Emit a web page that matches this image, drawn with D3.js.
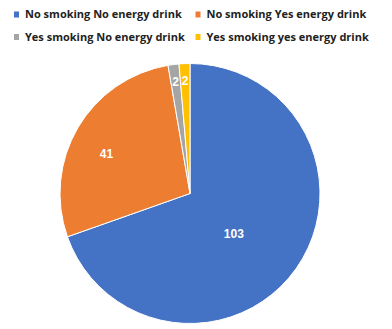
<!DOCTYPE html>
<html>
<head>
<meta charset="utf-8">
<script src="https://cdn.jsdelivr.net/npm/d3@7"></script>
<style>
  body { margin: 0; background: #fff; }
  text { font-weight: bold; }
</style>
</head>
<body>
<div id="chart"></div>
<script>
const categories = ["No smoking No energy drink", "No smoking Yes energy drink", "Yes smoking No energy drink", "Yes smoking yes energy drink"]
const values = [103, 41, 2, 2]
const colors = ["#4472C4", "#ED7D31", "#A5A5A5", "#FFC000"]

const width = 392, height = 329
const cx = 190, cy = 193.5, radius = 130

const svg = d3.select("#chart").append("svg")
    .attr("width", width)
    .attr("height", height)

const data = categories.map((c, i) => ({ name: c, value: values[i], color: colors[i] }))

const pie = d3.pie().value(d => d.value).sort(null)
const arc = d3.arc().innerRadius(0).outerRadius(radius)
const arcs = pie(data)

const g = svg.append("g").attr("transform", `translate(${cx},${cy})`)

g.selectAll("path")
    .data(arcs)
    .join("path")
    .attr("d", arc)
    .attr("fill", d => d.data.color)
    .attr("stroke", "#fff")
    .attr("stroke-width", 1)

// big slices sit closer to the middle, thin ones near the rim
const labelPos = d => {
    const a = (d.startAngle + d.endAngle) / 2
    let r = radius * 0.87, ox = 0, oy = 0
    if (d.data.value > 100) { r = radius * 0.46; ox = -5; oy = 6 }
    else if (d.data.value > 20) { r = radius * 0.7; ox = -5; oy = 6 }
    return [Math.sin(a) * r + ox, -Math.cos(a) * r + oy]
}
g.selectAll("text.lbl")
    .data(arcs)
    .join("text")
    .attr("class", "lbl")
    .attr("transform", d => `translate(${labelPos(d)})`)
    .attr("text-anchor", "middle")
    .attr("dy", "0.36em")
    .attr("fill", "#fff")
    .style("font-family", "'Liberation Sans', Arial, sans-serif")
    .style("font-size", "12px")
    .text(d => d.data.value)

// legend, two per row
const lg = svg.append("g").selectAll("g")
    .data(data)
    .join("g")
    .attr("transform", (d, i) => `translate(${i % 2 ? 195.5 : 14},${i < 2 ? 14.5 : 37})`)

lg.append("rect")
    .attr("x", 0).attr("y", -3)
    .attr("width", 5).attr("height", 6)
    .attr("fill", d => d.color)

lg.append("text")
    .attr("x", 11)
    .attr("y", 3.5)
    .attr("fill", "#222")
    .style("font-family", "'Open Sans', sans-serif")
    .style("font-size", "11px")
    .text(d => d.name)
</script>
</body>
</html>
